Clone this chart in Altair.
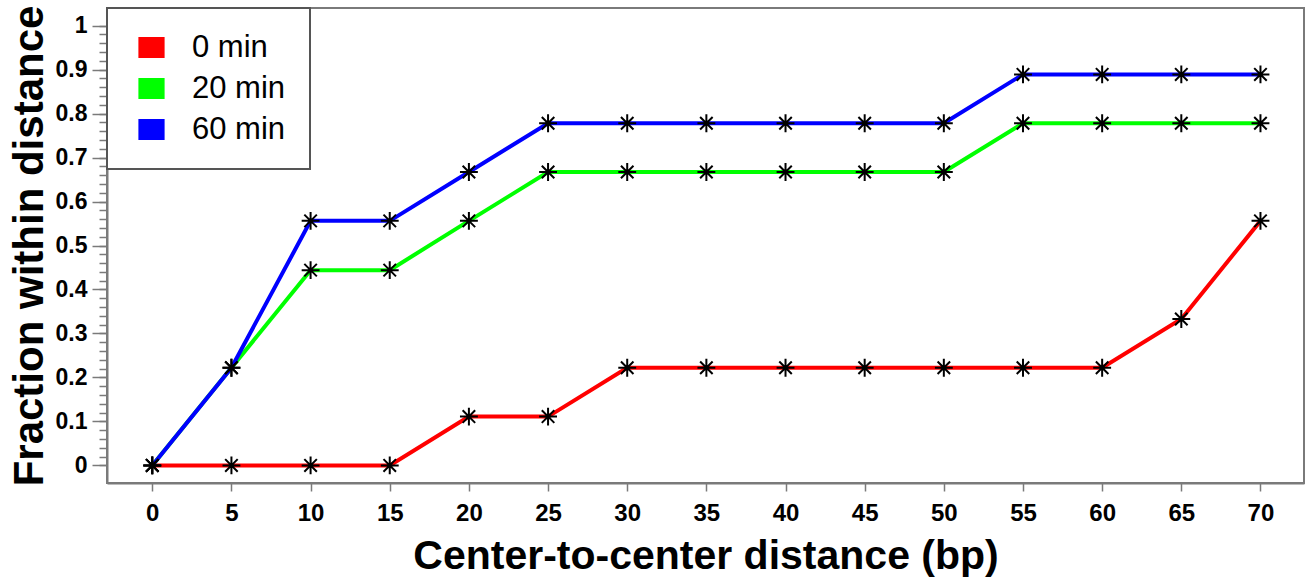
import altair as alt
import pandas as pd

# Center-to-center distance (bp)
distance = [0, 5, 10, 15, 20, 25, 30, 35, 40, 45, 50, 55, 60, 65, 70]

# Cumulative fraction of pairs within each distance (n = 9)
frac_0min = [0, 0, 0, 0, 0.111, 0.111, 0.222, 0.222, 0.222, 0.222, 0.222, 0.222, 0.222, 0.333, 0.556]
frac_20min = [0, 0.222, 0.444, 0.444, 0.556, 0.667, 0.667, 0.667, 0.667, 0.667, 0.667, 0.778, 0.778, 0.778, 0.778]
frac_60min = [0, 0.222, 0.556, 0.556, 0.667, 0.778, 0.778, 0.778, 0.778, 0.778, 0.778, 0.889, 0.889, 0.889, 0.889]

series_names = ["0 min", "20 min", "60 min"]
series_colors = ["#ff0000", "#00ff00", "#0000ff"]

x_ticks = list(range(0, 71, 5))
y_major = [round(i * 0.1, 1) for i in range(11)]
y_minor = [round(i * 0.02, 2) for i in range(51)]

rows = []
for name, vals in zip(series_names, [frac_0min, frac_20min, frac_60min]):
    for d, v in zip(distance, vals):
        rows.append({"distance": d, "fraction": v, "series": name})
df = pd.DataFrame(rows)

FONT = "Liberation Sans"
GRAY = "#7a7a7a"

x_scale = alt.Scale(domain=[-2.86, 72.75], nice=False, zero=False)
y_scale = alt.Scale(domain=[-0.040, 1.040], nice=False, zero=False)
color_scale = alt.Scale(domain=series_names, range=series_colors)

x_axis = alt.Axis(
    values=x_ticks,
    title="Center-to-center distance (bp)",
    grid=False,
    domainColor=GRAY,
    domainWidth=2,
    tickColor=GRAY,
    tickWidth=1.5,
    tickSize=8,
    labelFont=FONT,
    labelFontWeight="bold",
    labelFontSize=24,
    labelColor="black",
    labelPadding=10,
    titleFont=FONT,
    titleFontWeight="bold",
    titleFontSize=41,
    titleColor="black",
    titleBaseline="alphabetic",
    titleY=85,
)

# Major y ticks with labels
y_axis_major = alt.Axis(
    orient="left",
    values=y_major,
    format=".1~f",
    title="Fraction within distance",
    grid=False,
    domainColor=GRAY,
    domainWidth=2,
    tickColor=GRAY,
    tickWidth=1.5,
    tickSize=15,
    labelFont=FONT,
    labelFontWeight="bold",
    labelFontSize=23,
    labelColor="black",
    labelPadding=5,
    labelOverlap=False,
    labelFlush=False,
    titleFont=FONT,
    titleFontWeight="bold",
    titleFontSize=42,
    titleColor="black",
    titleBaseline="alphabetic",
    titleX=-65,
)

# Minor y ticks, unlabeled
y_axis_minor = alt.Axis(
    orient="left",
    values=y_minor,
    labels=False,
    title=None,
    grid=False,
    domain=False,
    tickColor=GRAY,
    tickWidth=1.5,
    tickSize=8,
)

series_legend = alt.Legend(
    title=None,
    orient="none",
    legendX=0,
    legendY=0,
    padding=24,
    fillColor="white",
    strokeColor="#555555",
    cornerRadius=0,
    symbolType="M-1,-0.8H1V0.8H-1Z",
    symbolSize=625,
    symbolStrokeColor="#444444",
    symbolStrokeWidth=1.2,
    symbolOffset=5,
    symbolOpacity=1,
    labelFont=FONT,
    labelFontSize=31,
    labelColor="black",
    labelOffset=25,
    rowPadding=9,
)

# Invisible filled squares: they carry the minor y ticks and give the legend filled keys
legend_keys = alt.Chart(df).mark_point(
    filled=True, opacity=0, size=1, stroke="#444444", strokeWidth=1.2
).encode(
    x=alt.X("distance:Q", scale=x_scale, axis=x_axis),
    y=alt.Y("fraction:Q", scale=y_scale, axis=y_axis_minor),
    fill=alt.Fill("series:N", sort=series_names, scale=color_scale, legend=series_legend),
)

lines = alt.Chart(df).mark_line(strokeWidth=4).encode(
    x=alt.X("distance:Q"),
    y=alt.Y("fraction:Q", axis=y_axis_major),
    stroke=alt.Stroke("series:N", sort=series_names, scale=color_scale, legend=None),
    order="distance:Q",
)

stars = alt.Chart(df).mark_point(
    shape="M0,-1L0,1M-1,0L1,0M-0.7,-0.7L0.7,0.7M-0.7,0.7L0.7,-0.7",
    size=320,
    filled=False,
    color="black",
    strokeWidth=2,
    opacity=1,
).encode(
    x=alt.X("distance:Q"),
    y=alt.Y("fraction:Q", axis=None),
)

chart = (
    alt.layer(legend_keys, lines, stars)
    .resolve_axis(y="independent")
    .properties(
        width=1197,
        height=475,
        padding={"left": 107, "top": 8, "right": 7, "bottom": 101},
        autosize=alt.AutoSizeParams(type="none"),
        background="white",
    )
    .configure_view(stroke=GRAY, strokeWidth=2)
    .configure_legend(strokeWidth=2)
)

chart.save("out.html", embed_options={"renderer": "svg", "actions": False})
